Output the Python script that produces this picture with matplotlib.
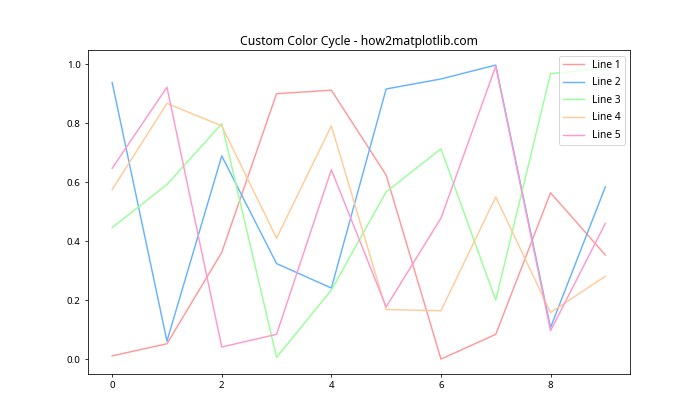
import matplotlib.pyplot as plt
import numpy as np

plt.rcParams['font.family'] = ['Noto Sans', 'DejaVu Sans']

x = np.arange(10)
line1 = [0.011, 0.052, 0.362, 0.900, 0.912, 0.624, 0.000, 0.084, 0.564, 0.353]
line2 = [0.938, 0.061, 0.689, 0.324, 0.241, 0.916, 0.950, 0.997, 0.107, 0.584]
line3 = [0.446, 0.592, 0.798, 0.006, 0.234, 0.567, 0.713, 0.200, 0.968, 0.986]
line4 = [0.575, 0.867, 0.791, 0.410, 0.791, 0.168, 0.164, 0.550, 0.158, 0.281]
line5 = [0.647, 0.922, 0.041, 0.084, 0.642, 0.177, 0.478, 0.993, 0.096, 0.460]
series = [line1, line2, line3, line4, line5]
labels = ['Line 1', 'Line 2', 'Line 3', 'Line 4', 'Line 5']
colors = ['#FF9999', '#66B3FF', '#99FF99', '#FFCC99', '#FF99CC']

plt.rcParams['axes.prop_cycle'] = plt.cycler(color=colors)

fig, ax = plt.subplots(figsize=(10, 6), dpi=70)
for y, lab in zip(series, labels):
    ax.plot(x, y, label=lab)

ax.set_title('Custom Color Cycle - how2matplotlib.com', fontsize=12.5)
ax.legend(fontsize=10.5, labelspacing=0.65)

plt.savefig('out.png')
